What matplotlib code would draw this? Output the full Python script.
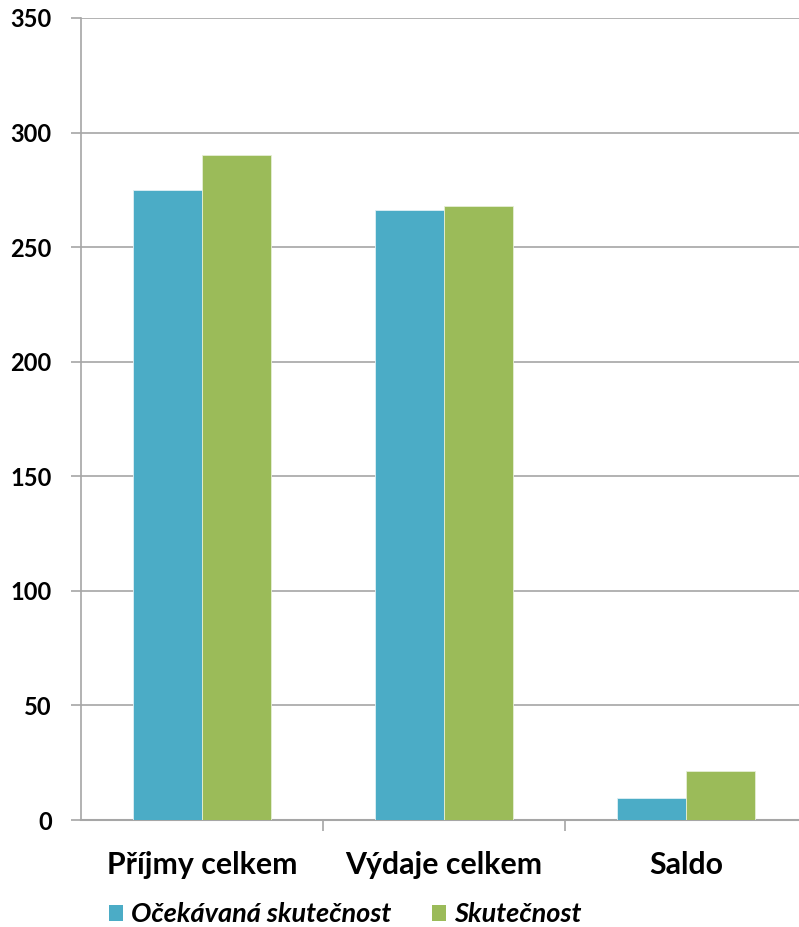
import matplotlib.pyplot as plt
from matplotlib.patches import Patch
import numpy as np

categories = ['Příjmy celkem', 'Výdaje celkem', 'Saldo']
ocekavana = [275, 266, 9.5]
skutecnost = [290, 268, 21.5]
series_names = ['Očekávaná skutečnost', 'Skutečnost']
y_ticks = [0, 50, 100, 150, 200, 250, 300, 350]

BLUE = '#4BACC6'
GREEN = '#9BBB59'

plt.rcParams['font.family'] = ['Lato', 'DejaVu Sans']

fig = plt.figure(figsize=(7.99, 9.27), dpi=100)
# plot area runs slightly past the right edge, as in the original
ax = fig.add_axes([81 / 799, 0.1154, 726 / 799, 0.8652])

x = np.arange(len(categories))
w = 0.285
ax.bar(x - w / 2, ocekavana, w, color=BLUE, edgecolor='#dff0f4', linewidth=0.6, zorder=3)
ax.bar(x + w / 2, skutecnost, w, color=GREEN, edgecolor='#e6efd6', linewidth=0.6, zorder=3)

ax.set_xlim(-0.5, 2.5)
ax.set_ylim(0, 350)
ax.set_yticks(y_ticks)
ax.set_yticklabels([str(t) for t in y_ticks], fontsize=17, fontweight='bold')
ax.grid(axis='y', color='#a6a6a6', linewidth=1.2, zorder=0)

ax.set_xticks(x)
ax.set_xticklabels(categories, fontsize=21.8, fontweight='bold')
ax.set_xticks([0.5, 1.5, 2.5], minor=True)
ax.tick_params(axis='x', which='major', length=0, pad=22)
ax.tick_params(axis='x', which='minor', length=8, width=1.2, color='#a6a6a6')
ax.tick_params(axis='y', length=7, width=1.2, color='#a6a6a6', pad=14)

for side in ['top', 'right']:
    ax.spines[side].set_visible(False)
ax.spines['left'].set_color('#a6a6a6')
ax.spines['left'].set_linewidth(1.2)
ax.spines['bottom'].set_color('#a6a6a6')
ax.spines['bottom'].set_linewidth(1.5)

handles = [Patch(facecolor=BLUE), Patch(facecolor=GREEN)]
leg = fig.legend(handles, series_names, loc='center', bbox_to_anchor=(0.4324, 0.0135),
                 ncol=2, frameon=False, handlelength=0.52, handleheight=0.55,
                 handletextpad=0.3, columnspacing=1.5, borderpad=0,
                 prop={'size': 19.5, 'weight': 'bold', 'style': 'italic'})

fig.savefig('out.png', dpi=100)
